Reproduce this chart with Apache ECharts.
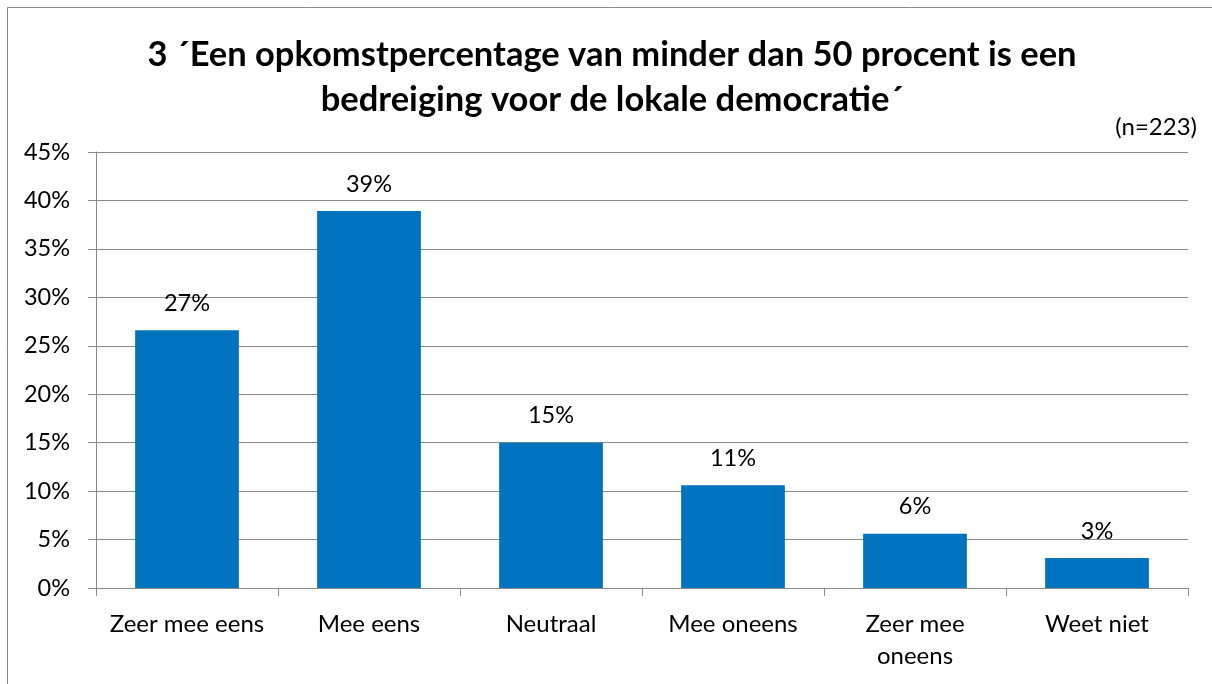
<!DOCTYPE html>
<html>
<head>
<meta charset="utf-8">
<script src="https://cdn.jsdelivr.net/npm/echarts@6/dist/echarts.min.js"></script>
<style>
html,body{margin:0;padding:0;background:#fff;}
#chart{width:1212px;height:684px;}
</style>
</head>
<body>
<div id="chart"></div>
<script>
const titleLines = ["3 \u00b4Een opkomstpercentage van minder dan 50 procent is een", "bedreiging voor de lokale democratie\u00b4"];
const sampleNote = "(n=223)";
const categories = ["Zeer mee eens", "Mee eens", "Neutraal", "Mee oneens", "Zeer mee\noneens", "Weet niet"];
const values = [26.6, 38.9, 15.0, 10.6, 5.6, 3.1];
const yTicks = [0, 5, 10, 15, 20, 25, 30, 35, 40, 45];

const FONT = "Lato, 'Open Sans', sans-serif";
const chart = echarts.init(document.getElementById('chart'), null, {renderer: 'canvas'});
chart.setOption({
  animation: false,
  backgroundColor: '#ffffff',
  graphic: [
    {type: 'rect', shape: {x: 7.5, y: 7.5, width: 1400, height: 1000}, style: {fill: 'none', stroke: '#8a8a8a', lineWidth: 1}, silent: true, z: -1},
    {type: 'text', x: 612, y: 55, style: {text: titleLines[0], font: "bold 34.5px " + FONT, fill: '#000', textAlign: 'center', textVerticalAlign: 'middle'}},
    {type: 'text', x: 612, y: 100, style: {text: titleLines[1], font: "bold 34.5px " + FONT, fill: '#000', textAlign: 'center', textVerticalAlign: 'middle'}},
    {type: 'text', x: 1197, y: 127, style: {text: sampleNote, font: "24px " + FONT, fill: '#000', textAlign: 'right', textVerticalAlign: 'middle'}}
  ],
  grid: {left: 96, right: 24, top: 152, bottom: 96, containLabel: false},
  xAxis: {
    type: 'category',
    data: categories,
    axisLine: {show: true, lineStyle: {color: '#8a8a8a', width: 1}},
    axisTick: {show: true, length: 8, lineStyle: {color: '#8a8a8a'}},
    axisLabel: {color: '#000', fontFamily: FONT, fontSize: 24, margin: 20, lineHeight: 32, interval: 0, verticalAlign: 'top'}
  },
  yAxis: {
    type: 'value',
    min: 0, max: 45, interval: 5,
    axisLine: {show: true, lineStyle: {color: '#8a8a8a', width: 1}},
    axisTick: {show: true, length: 8, lineStyle: {color: '#8a8a8a'}},
    splitLine: {show: true, lineStyle: {color: '#8a8a8a', width: 1}},
    axisLabel: {color: '#000', fontFamily: FONT, fontSize: 23.5, margin: 26,
      formatter: v => yTicks.includes(v) ? v + '%' : ''}
  },
  series: [{
    type: 'bar',
    data: values,
    barWidth: '57%',
    itemStyle: {color: '#0073be'},
    label: {show: true, position: 'top', distance: 15, color: '#000', fontFamily: FONT, fontSize: 23.5,
      formatter: p => Math.round(p.value) + '%'}
  }]
});
</script>
</body>
</html>
